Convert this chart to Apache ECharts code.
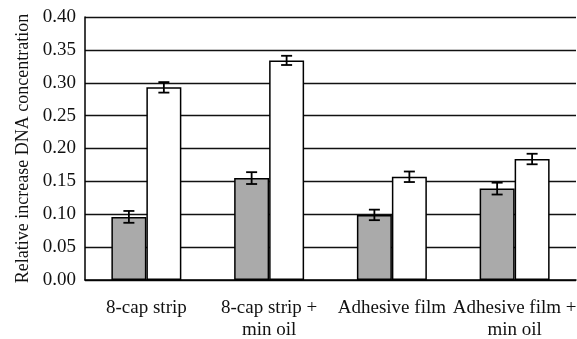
<!DOCTYPE html>
<html>
<head>
<meta charset="utf-8">
<script src="https://cdn.jsdelivr.net/npm/echarts@6/dist/echarts.min.js"></script>
<style>
  html, body { margin: 0; padding: 0; background: #fff; }
  #chart { width: 577px; height: 339px; }
</style>
</head>
<body>
<div id="chart"></div>
<script>
// Sealing method categories
const categories = ['8-cap strip', '8-cap strip +\nmin oil', 'Adhesive film', 'Adhesive film +\nmin oil'];
// Mean relative increase in DNA concentration
const grayValues = [0.096, 0.155, 0.099, 0.139];
const whiteValues = [0.293, 0.334, 0.157, 0.184];
// Error (± half-range) for each bar
const grayErrors = [0.009, 0.009, 0.008, 0.009];
const whiteErrors = [0.008, 0.007, 0.008, 0.008];
// Y axis ticks
const yTicks = { min: 0, max: 0.40, interval: 0.05 };

const FONT = 'Liberation Serif';
const BAR_FRAC = 0.285; // bar width as fraction of category band

function errorSeries(values, errors, side) {
  return {
    type: 'custom',
    z: 10,
    data: values.map((v, i) => [i, v, errors[i]]),
    renderItem: function (params, api) {
      const idx = api.value(0);
      const v = api.value(1);
      const e = api.value(2);
      const band = api.size([1, 0])[0];
      const center = api.coord([idx, v]);
      const x = center[0] + side * band * BAR_FRAC / 2;
      const top = api.coord([idx, v + e])[1];
      const bot = api.coord([idx, v - e])[1];
      const cap = 5.5;
      const style = { stroke: '#000', lineWidth: 1.8 };
      return {
        type: 'group',
        children: [
          { type: 'line', shape: { x1: x, y1: top, x2: x, y2: bot }, style: style },
          { type: 'line', shape: { x1: x - cap, y1: top, x2: x + cap, y2: top }, style: style },
          { type: 'line', shape: { x1: x - cap, y1: bot, x2: x + cap, y2: bot }, style: style }
        ]
      };
    }
  };
}

const chart = echarts.init(document.getElementById('chart'), null, { renderer: 'canvas' });
chart.setOption({
  animation: false,
  backgroundColor: '#fff',
  grid: { left: 85, right: 1, top: 17, bottom: 59, outerBoundsMode: 'none', containLabel: false },
  xAxis: {
    type: 'category',
    data: categories,
    axisLine: { lineStyle: { color: '#000', width: 1.5 } },
    axisTick: { show: false },
    axisLabel: {
      color: '#111', fontFamily: FONT, fontSize: 19, margin: 17, lineHeight: 22,
      interval: 0
    }
  },
  yAxis: {
    type: 'value',
    min: yTicks.min, max: yTicks.max, interval: yTicks.interval,
    name: 'Relative increase DNA concentration',
    nameLocation: 'middle',
    nameGap: 53,
    nameTextStyle: { color: '#111', fontFamily: FONT, fontSize: 18 },
    axisLine: { show: true, lineStyle: { color: '#000', width: 1.5 } },
    axisTick: { show: false },
    axisLabel: {
      color: '#111', fontFamily: FONT, fontSize: 19, margin: 9,
      formatter: v => v.toFixed(2)
    },
    splitLine: { lineStyle: { color: '#111', width: 1.4 } }
  },
  series: [
    {
      type: 'bar', data: grayValues, barWidth: (BAR_FRAC * 100) + '%', barGap: '0%',
      itemStyle: { color: '#aaaaaa', borderColor: '#000', borderWidth: 1.5 }
    },
    {
      type: 'bar', data: whiteValues, barWidth: (BAR_FRAC * 100) + '%', barGap: '0%',
      itemStyle: { color: '#ffffff', borderColor: '#000', borderWidth: 1.5 }
    },
    errorSeries(grayValues, grayErrors, -1),
    errorSeries(whiteValues, whiteErrors, 1)
  ]
});
</script>
</body>
</html>
